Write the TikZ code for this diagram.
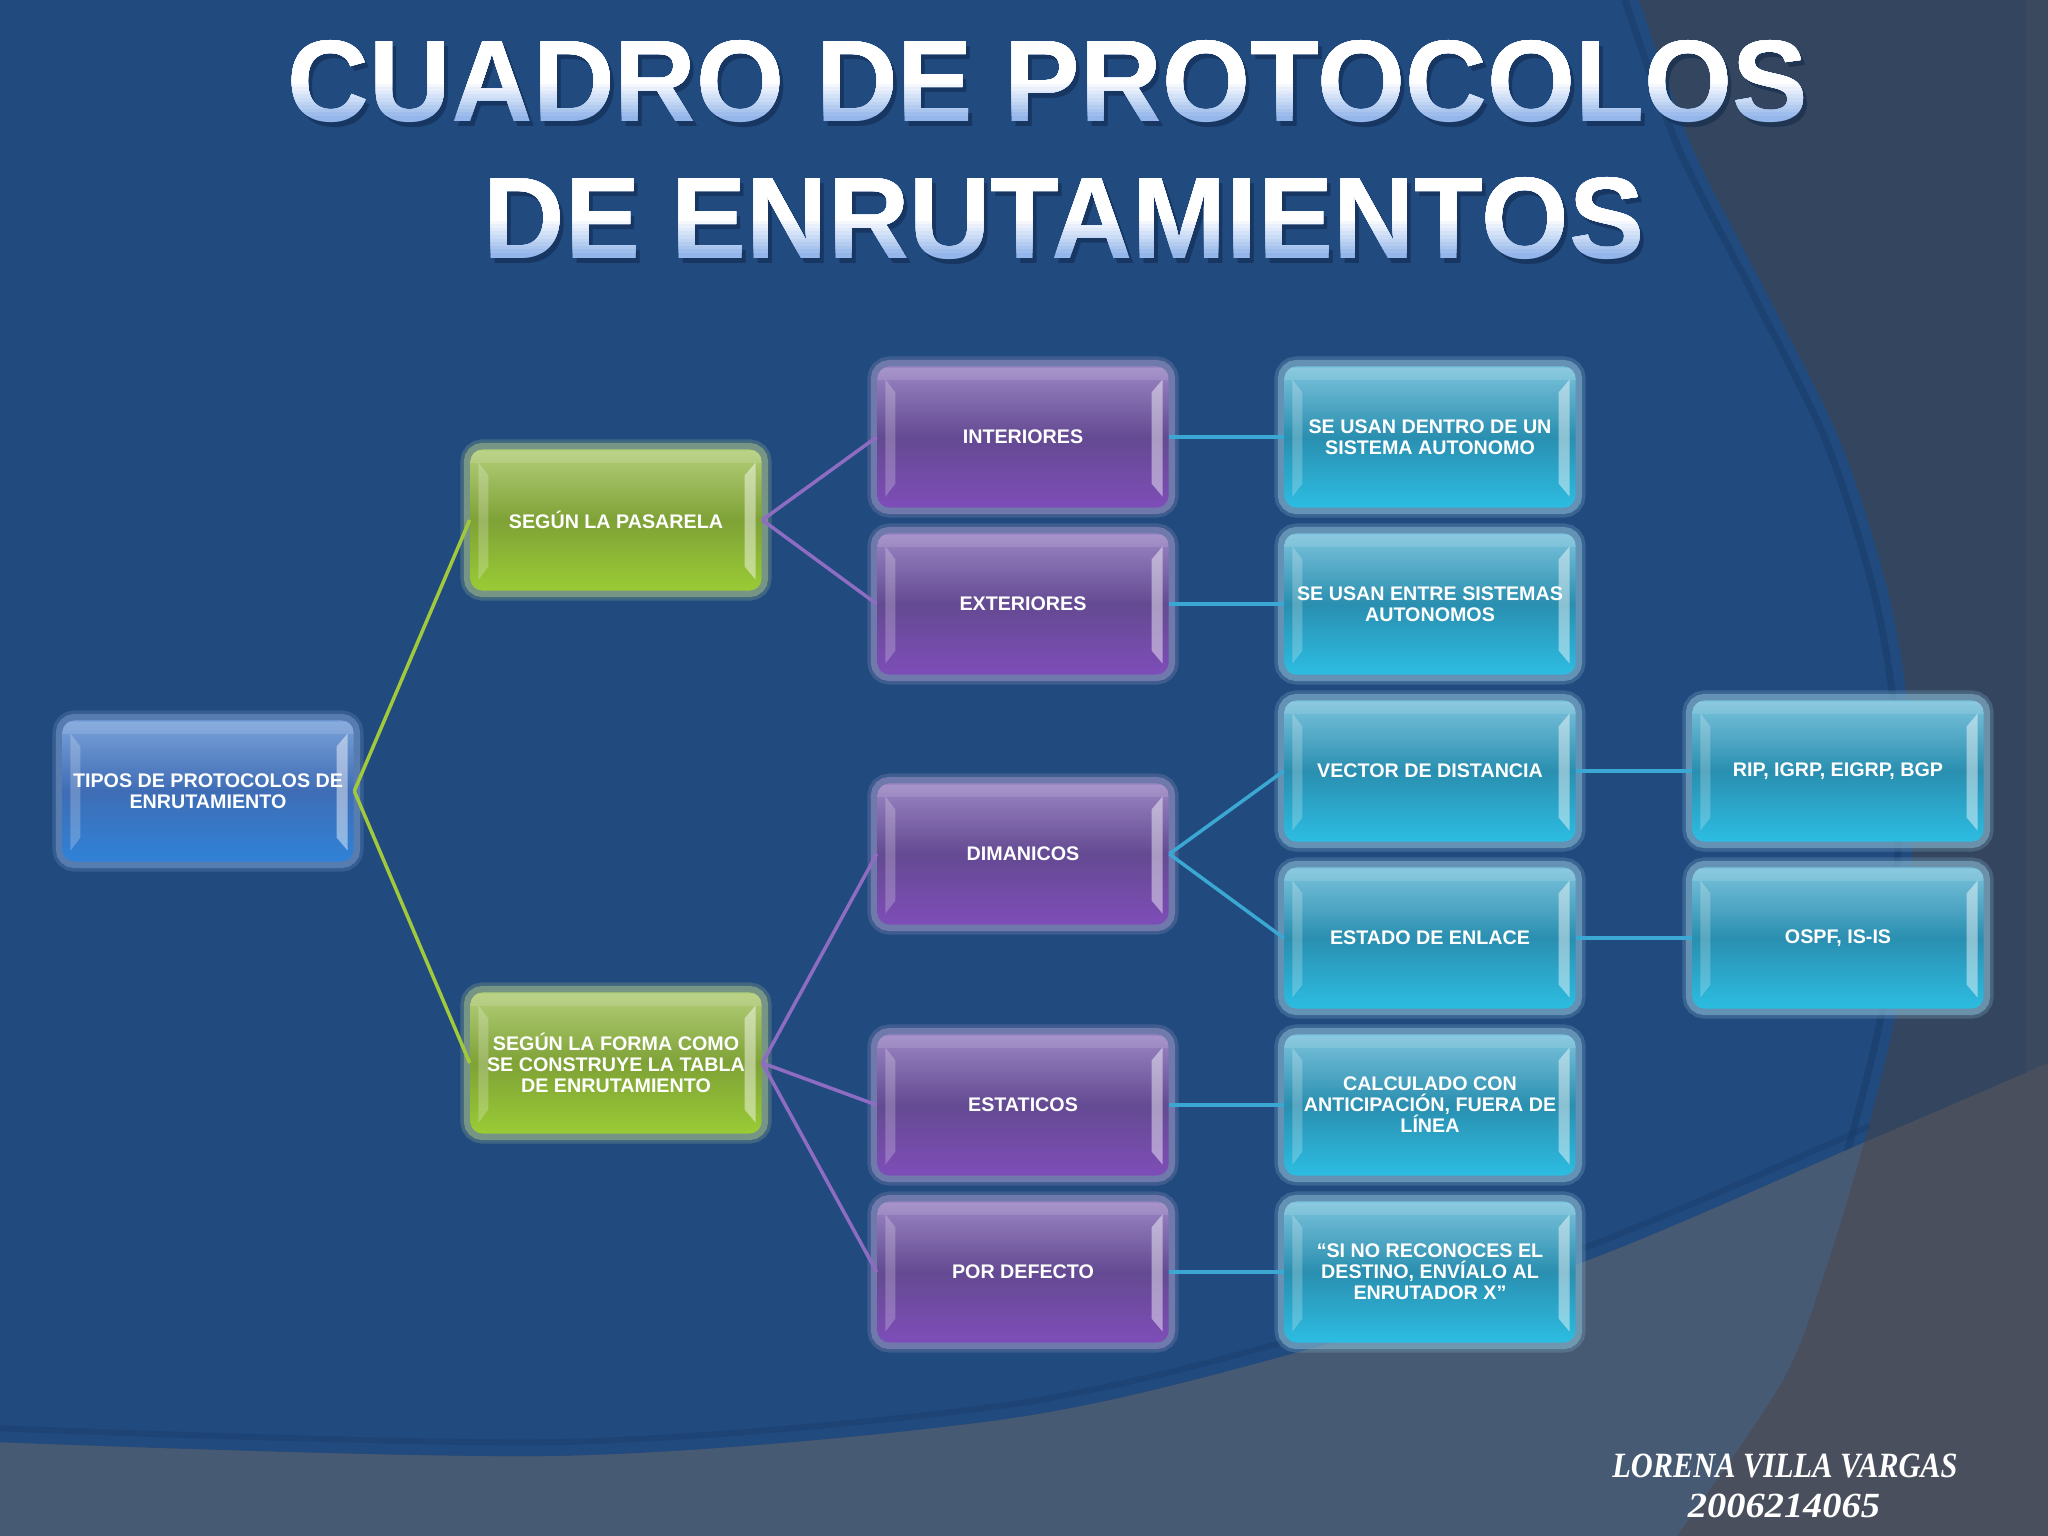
\documentclass[tikz,border=0pt]{standalone}
\usepackage{fontspec}
\setmainfont{Liberation Sans}
\newfontfamily\authorfont{Liberation Serif}
\usetikzlibrary{calc}

\definecolor{bgblue}{HTML}{214A7F}
\definecolor{slate}{HTML}{34465F}
\definecolor{slatestrip}{HTML}{3B495E}
\definecolor{banddark}{HTML}{4A4F5E}
\definecolor{bandblue}{HTML}{475A73}
\definecolor{edgeshadow}{HTML}{193B67}

\definecolor{bTop}{HTML}{7AA2DA}\definecolor{bMid}{HTML}{3F6DB5}\definecolor{bBot}{HTML}{2F82D8}\definecolor{bGlow}{HTML}{7496CA}
\definecolor{gTop}{HTML}{B3CE7A}\definecolor{gMid}{HTML}{7FA236}\definecolor{gBot}{HTML}{9ACB35}\definecolor{gGlow}{HTML}{A2BC88}
\definecolor{pTop}{HTML}{9B86C4}\definecolor{pMid}{HTML}{644A92}\definecolor{pBot}{HTML}{7E4DB8}\definecolor{pGlow}{HTML}{9A92C2}
\definecolor{cTop}{HTML}{7CC3DC}\definecolor{cMid}{HTML}{2A8FB0}\definecolor{cBot}{HTML}{2CBDE2}\definecolor{cGlow}{HTML}{86B8D0}

\definecolor{lineGreen}{HTML}{A2C83C}
\definecolor{linePurple}{HTML}{8E6CC2}
\definecolor{lineCyan}{HTML}{3AA8D2}

\definecolor{tblueA}{HTML}{94B6EA}
\definecolor{tshadow}{HTML}{0E2646}

\newcommand\TitleLine[5]{%
  \node[ttl, text=tshadow, opacity=0.5] (#1s) at (#2+4,#3-5) {\resizebox{#4}{0.81cm}{#5}};
  \node[ttl, text=tblueA] (#1) at (#2,#3) {\resizebox{#4}{0.81cm}{#5}};
  \foreach \i in {1,...,10}{
    \pgfmathsetmacro\tp{10*\i}
    \begin{scope}
      \clip (0,#3+2+3.6*\i) rectangle (2048,#3+200);
      \node[ttl, text=white!\tp!tblueA] (#1g\i) at (#2,#3) {\resizebox{#4}{0.81cm}{#5}};
    \end{scope}
  }
}

\begin{document}
\begin{tikzpicture}[x=0.01cm,y=0.01cm,
  ttl/.style={inner sep=0pt, anchor=base, font=\bfseries},
  bevel/.style={path picture={
     \fill[white,opacity=0.22,sharp corners] ($(path picture bounding box.north west)+(8,-13)$) -- ($(path picture bounding box.north west)+(18,-26)$) -- ($(path picture bounding box.south west)+(18,24)$) -- ($(path picture bounding box.south west)+(8,11)$) -- cycle;
     \fill[white,opacity=0.45,sharp corners] ($(path picture bounding box.north east)+(-6,-13)$) -- ($(path picture bounding box.north east)+(-17,-26)$) -- ($(path picture bounding box.south east)+(-17,24)$) -- ($(path picture bounding box.south east)+(-6,11)$) -- cycle;
     \fill[white,opacity=0.12,sharp corners] ($(path picture bounding box.north west)+(0,-2)$) rectangle ($(path picture bounding box.north east)+(0,-14)$);
  }},
  pbox/.style={rectangle, rounded corners=0.12cm, minimum width=2.91cm, minimum height=1.41cm,
     inner sep=0pt, align=center, text=white, font=\bfseries\fontsize{5.6}{5.95}\selectfont, bevel},
  boxblue/.style={pbox, top color=bTop, bottom color=bBot, middle color=bMid,
     preaction={draw=bGlow, line width=0.20cm, opacity=0.25},
     preaction={draw=bGlow, line width=0.13cm, opacity=0.55}},
  boxgreen/.style={pbox, top color=gTop, bottom color=gBot, middle color=gMid,
     preaction={draw=gGlow, line width=0.20cm, opacity=0.25},
     preaction={draw=gGlow, line width=0.13cm, opacity=0.55}},
  boxpurple/.style={pbox, top color=pTop, bottom color=pBot, middle color=pMid,
     preaction={draw=pGlow, line width=0.20cm, opacity=0.25},
     preaction={draw=pGlow, line width=0.13cm, opacity=0.55}},
  boxcyan/.style={pbox, top color=cTop, bottom color=cBot, middle color=cMid,
     preaction={draw=cGlow, line width=0.20cm, opacity=0.25},
     preaction={draw=cGlow, line width=0.13cm, opacity=0.55}},
  gline/.style={draw=lineGreen, line width=0.035cm},
  pline/.style={draw=linePurple, line width=0.035cm},
  cline/.style={draw=lineCyan, line width=0.035cm},
]
\useasboundingbox (0,0) rectangle (2048,-1536);

% ---------- background ----------
\fill[slate] (0,0) rectangle (2048,-1536);
\fill[slatestrip] (2026,0) rectangle (2048,-1536);
\fill[bgblue] (0,10) -- (1636,10) -- plot[smooth] coordinates {(1639,0) (1692,-147) (1767,-294) (1840,-441) (1887,-588) (1908,-710) (1912,-850) (1898,-1000) (1866,-1135) (1827,-1265) (1783,-1380) (1677,-1536) (1650,-1570)} -- (0,-1570) -- cycle;
\draw[edgeshadow, line width=0.07cm, opacity=0.5, xshift=-4] plot[smooth] coordinates {(1639,0) (1692,-147) (1767,-294) (1840,-441) (1887,-588) (1908,-710) (1912,-850) (1898,-1000) (1866,-1135) (1827,-1265) (1783,-1380) (1677,-1536) (1650,-1570)};
\fill[banddark] plot[smooth] coordinates {(-10,-1442) (561,-1456) (1000,-1420) (1281,-1357) (1581,-1263) (1870,-1140) (2060,-1058)} -- (2060,-1550) -- (-10,-1550) -- cycle;
\begin{scope}
  \clip plot[smooth] coordinates {(-10,-1442) (561,-1456) (1000,-1420) (1281,-1357) (1581,-1263) (1870,-1140) (2060,-1058)} -- (2060,-1550) -- (-10,-1550) -- cycle;
  \fill[bandblue] (0,10) -- (1636,10) -- plot[smooth] coordinates {(1639,0) (1692,-147) (1767,-294) (1840,-441) (1887,-588) (1908,-710) (1912,-850) (1898,-1000) (1866,-1135) (1827,-1265) (1783,-1380) (1677,-1536) (1650,-1570)} -- (0,-1570) -- cycle;
\end{scope}
\draw[edgeshadow, line width=0.06cm, opacity=0.4, yshift=4] plot[smooth] coordinates {(-10,-1442) (561,-1456) (1000,-1420) (1281,-1357) (1581,-1263) (1870,-1140)};

% ---------- title ----------
\TitleLine{titleA}{1048}{-121}{15.19cm}{CUADRO DE PROTOCOLOS}
\TitleLine{titleB}{1064}{-258}{11.60cm}{DE ENRUTAMIENTOS}

% ---------- boxes ----------
\node[boxblue] (tipos) at (208,-791) {TIPOS DE PROTOCOLOS DE\\ENRUTAMIENTO};
\node[boxgreen] (pas) at (616,-520) {SEGÚN LA PASARELA};
\node[boxgreen] (forma) at (616,-1063) {SEGÚN LA FORMA COMO\\SE CONSTRUYE LA TABLA\\DE ENRUTAMIENTO};

\node[boxpurple] (inter) at (1023,-437) {INTERIORES};
\node[boxpurple] (exter) at (1023,-604) {EXTERIORES};
\node[boxpurple] (dinam) at (1023,-854) {DIMANICOS};
\node[boxpurple] (estat) at (1023,-1105) {ESTATICOS};
\node[boxpurple] (pordef) at (1023,-1272) {POR DEFECTO};

\node[boxcyan] (dentro) at (1430,-437) {SE USAN DENTRO DE UN\\SISTEMA AUTONOMO};
\node[boxcyan] (entre) at (1430,-604) {SE USAN ENTRE SISTEMAS\\AUTONOMOS};
\node[boxcyan] (vector) at (1430,-771) {VECTOR DE DISTANCIA};
\node[boxcyan] (estado) at (1430,-938) {ESTADO DE ENLACE};
\node[boxcyan] (ncalc) at (1430,-1105) {CALCULADO CON\\ANTICIPACIÓN, FUERA DE\\LÍNEA};
\node[boxcyan] (sino) at (1430,-1272) {“SI NO RECONOCES EL\\DESTINO, ENVÍALO AL\\ENRUTADOR X”};

\node[boxcyan] (rip) at (1838,-771) {RIP, IGRP, EIGRP, BGP};
\node[boxcyan] (ospf) at (1838,-938) {OSPF, IS-IS};

% ---------- connectors ----------
\draw[gline] (tipos.east) -- (pas.west);
\draw[gline] (tipos.east) -- (forma.west);
\draw[pline] (pas.east) -- (inter.west);
\draw[pline] (pas.east) -- (exter.west);
\draw[pline] (forma.east) -- (dinam.west);
\draw[pline] (forma.east) -- (estat.west);
\draw[pline] (forma.east) -- (pordef.west);
\draw[cline] (inter.east) -- (dentro.west);
\draw[cline] (exter.east) -- (entre.west);
\draw[cline] (dinam.east) -- (vector.west);
\draw[cline] (dinam.east) -- (estado.west);
\draw[cline] (estat.east) -- (ncalc.west);
\draw[cline] (pordef.east) -- (sino.west);
\draw[cline] (vector.east) -- (rip.west);
\draw[cline] (estado.east) -- (ospf.west);

% ---------- author ----------
\node[anchor=base, inner sep=0pt, text=white] (auth1) at (1785,-1477) {\resizebox{3.45cm}{0.235cm}{\authorfont\bfseries\itshape LORENA VILLA VARGAS}};
\node[anchor=base, inner sep=0pt, text=white] (auth2) at (1784,-1517) {\resizebox{1.92cm}{0.235cm}{\authorfont\bfseries\itshape 2006214065}};
\end{tikzpicture}
\end{document}
